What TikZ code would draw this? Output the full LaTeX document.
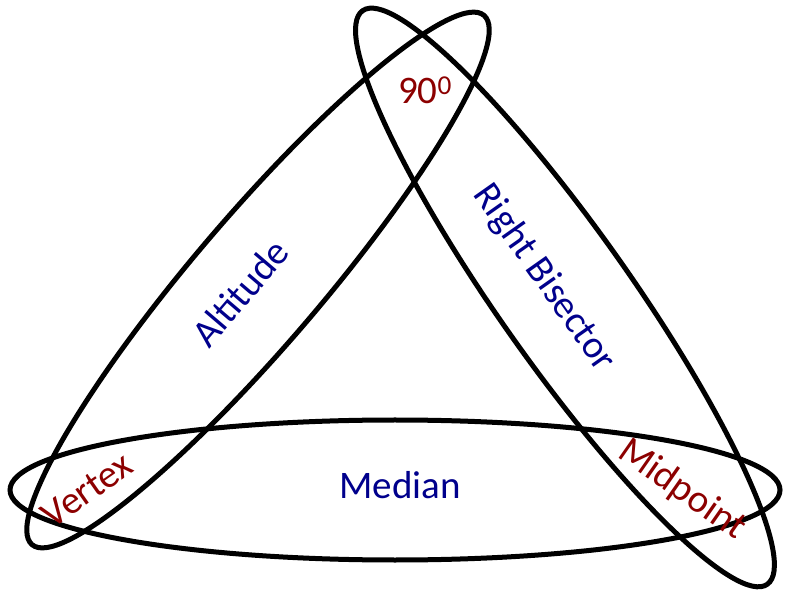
\documentclass[tikz,border=0pt]{standalone}
\usepackage{fontspec}
\setmainfont{Carlito}
\usepackage{tikz}
\usetikzlibrary{positioning}
\definecolor{ptred}{RGB}{140,0,0}
\definecolor{ptblue}{RGB}{0,0,140}

\begin{document}
\begin{tikzpicture}[x=1pt, y=1pt,
  loop/.style={draw=black, line width=5pt},
  point/.style={text=ptred, font=\fontsize{39}{46}\selectfont, inner sep=0pt},
  line/.style={text=ptblue, font=\fontsize{39}{46}\selectfont, inner sep=0pt}]
  \useasboundingbox (0,0) rectangle (786,594);
  \coordinate (cmed) at (395,104);
  \coordinate (calt) at (258,314);
  \coordinate (cbis) at (565,296.5);
  \draw[loop] (cmed) ellipse [x radius=385, y radius=70];
  \draw[loop, rotate around={49.5:(calt)}] (calt) ellipse [x radius=348, y radius=64];
  \draw[loop, rotate around={-54.8:(cbis)}] (cbis) ellipse [x radius=351, y radius=66];
  \node[line] (median) at (400,109) {Median};
  \node[line, rotate=49.5] (alt) at (240,301) {Altitude};
  \node[line, rotate=-54.8] (bis) at (544,316) {Right Bisector};
  \node[point] (right) at (425,504) {90\textsuperscript{0}};
  \node[point, rotate=35] (vertex) at (87,104) {Vertex};
  \node[point, rotate=-35] (mid) at (682,104) {Midpoint};
\end{tikzpicture}
\end{document}
